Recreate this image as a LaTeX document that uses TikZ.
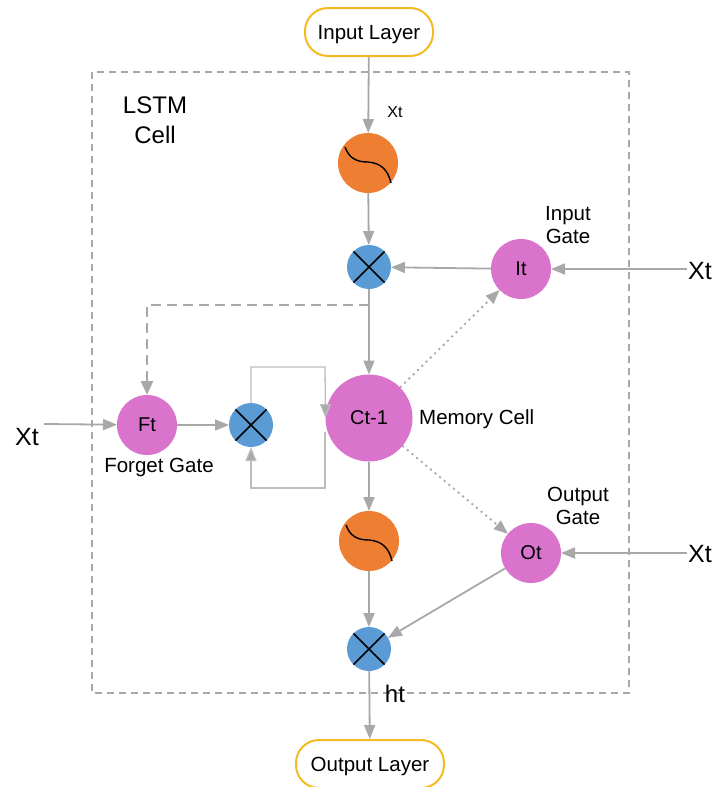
\documentclass[tikz,border=0pt]{standalone}
\usepackage{fontspec}
\setmainfont{Liberation Sans}
\usetikzlibrary{arrows.meta}
\definecolor{gatepink}{HTML}{DA73CB}
\definecolor{multblue}{HTML}{5B9BD5}
\definecolor{actorange}{HTML}{EE7E32}
\definecolor{layeryellow}{HTML}{F5B922}
\definecolor{arrgray}{HTML}{A8A8A8}
\definecolor{loopgray}{HTML}{BDBDBD}
\newcommand{\fs}[1]{\fontsize{#1}{#1}\selectfont}
\begin{document}
\begin{tikzpicture}[x=1pt,y=-1pt,
  gate/.style={circle, fill=gatepink, minimum size=60pt, inner sep=0pt, outer sep=0pt, font=\fs{20}},
  mult/.style={circle, fill=multblue, minimum size=44pt, inner sep=0pt, outer sep=0pt},
  act/.style={circle, fill=actorange, minimum size=60pt, inner sep=0pt, outer sep=0pt},
  layer/.style={rectangle, rounded corners=23pt, draw=layeryellow, line width=2pt, fill=white, minimum height=48pt, inner sep=0pt, text depth=0pt, font=\fs{20.5}},
  lbl/.style={font=\fs{20.5}, align=center, inner sep=0pt},
  xlbl/.style={font=\fs{25}, inner sep=0pt},
  arr/.style={draw=arrgray, line width=1.8pt, -{Triangle[length=14pt,width=11pt]}},
  looparr/.style={draw=loopgray, line width=1.3pt, -{Triangle[length=14pt,width=11pt,fill=arrgray]}},
  dotarr/.style={draw=arrgray, line width=1.8pt, dash pattern=on 2pt off 4pt, -{Triangle[length=14pt,width=11pt]}},
  dasharr/.style={draw=arrgray, line width=2.8pt, dash pattern=on 10pt off 6pt, -{Triangle[length=14pt,width=12pt]}},
  sigpic/.pic={\draw[line width=1.4pt, black] (-23,-16) .. controls (-19,-5) and (-12,-1) .. (0,-1) .. controls (13,0) and (20,7) .. (23,20);}
]
\useasboundingbox (0,0) rectangle (713,787);

% cell frame
\draw[draw=arrgray, line width=1.5pt, dash pattern=on 7pt off 5pt] (92,72) rectangle (629,693);
\node[lbl, font=\fs{24}, align=center] (lstm) at (155,120) {LSTM\\[6pt]Cell};

% nodes
\node[layer, minimum width=128pt] (in) at (369,32) {Input Layer};
\node[layer, minimum width=148pt] (out) at (370,764) {Output Layer};
\node[act] (a1) at (368,163) {};
\pic at (368,163) {sigpic};
\node[mult] (m1) at (369,267) {};
\node[gate] (it) at (521,269) {It};
\node[gate] (ft) at (147,425) {Ft};
\node[mult] (m2) at (251,425) {};
\node[gate, minimum size=87pt] (ct) at (369,418) {Ct-1};
\node[act] (a2) at (369,541) {};
\pic at (369,541) {sigpic};
\node[gate] (ot) at (531,553) {Ot};
\node[mult] (m3) at (369,649) {};

\foreach \m in {m1,m2,m3}{
  \draw[line width=1.5pt, black] (\m.north west) -- (\m.south east);
  \draw[line width=1.5pt, black] (\m.north east) -- (\m.south west);
}

% labels
\node[font=\fs{16}, inner sep=0pt] (xtop) at (395,112) {Xt};
\node[lbl] (ig) at (568,225) {Input\\[3pt]Gate};
\node[lbl] (og) at (578,506) {Output\\[3pt]Gate};
\node[lbl] (fg) at (159,467) {Forget Gate};
\node[lbl, anchor=west] (mc) at (419,419) {Memory Cell};
\node[font=\fs{24}, inner sep=0pt] (ht) at (395,694) {ht};
\node[xlbl, anchor=east] (xl) at (39,437) {Xt};
\node[xlbl, anchor=west] (xr1) at (688,271) {Xt};
\node[xlbl, anchor=west] (xr2) at (688,554) {Xt};
\coordinate (xlend) at (44,424);
\coordinate (xr1end) at (687,269);
\coordinate (xr2end) at (687,553);

% connectors
\draw[arr] (in) -- (a1);
\draw[arr] (a1) -- (m1);
\draw[arr] (it) -- (m1);
\draw[arr] (xr1end) -- (it);
\draw[arr] (m1) -- (ct);
\draw[arr] (xlend) -- (ft);
\draw[arr] (ft) -- (m2);
\draw[arr] (ct) -- (a2);
\draw[arr] (a2) -- (m3);
\draw[arr] (xr2end) -- (ot);
\draw[arr] (ot) -- (m3);
\draw[arr] (m3) -- (out);
\draw[dotarr] (ct) -- (it);
\draw[dotarr] (ct) -- (ot);
\coordinate (dk) at (369,305);
\draw[dasharr] (dk) -| (ft.north);
\coordinate (ltop) at (325,367);
\coordinate (lbot) at (325,488);
\coordinate (lstart) at (325,432);
\draw[looparr] (m2.north) |- (ltop) -- (ct.west);
\draw[looparr] (lstart) -- (lbot) -| (m2.south);
\end{tikzpicture}
\end{document}
